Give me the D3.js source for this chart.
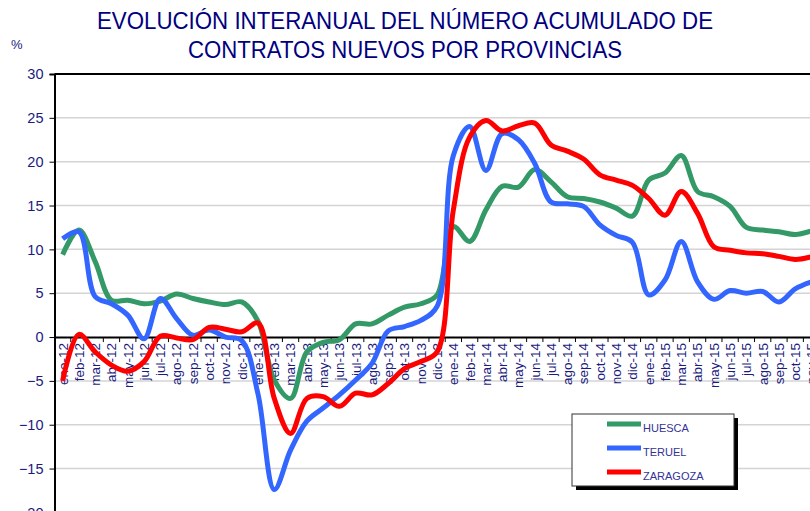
<!DOCTYPE html>
<html>
<head>
<meta charset="utf-8">
<script src="https://cdn.jsdelivr.net/npm/d3@7"></script>
<style>
  body { margin: 0; background: #fff; overflow: hidden; }
  #chart { width: 810px; height: 511px; }
</style>
</head>
<body>
<div id="chart"></div>
<script>
// Meses (ene-12 ... nov-15)
const meses = ["ene", "feb", "mar", "abr", "may", "jun", "jul", "ago", "sep", "oct", "nov", "dic"];
const anios = ["12", "13", "14", "15"];
const categorias = [];
anios.forEach(a => meses.forEach(m => categorias.push(m + "-" + a)));
categorias.splice(47); // la gráfica se corta en nov-15

const huesca = [9.4, 12.2, 8.6, 4.2, 4.2, 3.8, 4.1, 4.9, 4.4, 4.0, 3.7, 4.0,
    1.8, -4.9, -7.0, -1.7, -0.6, -0.3, 1.5, 1.5, 2.5, 3.4, 3.8, 4.8,
    12.6, 10.9, 14.5, 17.2, 17.1, 19.1, 17.7, 16.0, 15.8, 15.4, 14.7, 13.8,
    17.9, 18.7, 20.7, 16.6, 16.0, 14.9, 12.5, 12.2, 12.0, 11.7, 12.1];
const teruel = [11.2, 12.0, 4.6, 3.8, 2.5, -0.2, 4.4, 2.1, 0.2, 0.8, 0.0, -0.4,
    -6.5, -17.4, -12.9, -9.6, -8.1, -6.6, -4.9, -3.0, 0.7, 1.2, 1.9, 3.5,
    20.7, 24.0, 19.0, 23.2, 22.5, 19.8, 15.4, 15.2, 14.9, 12.8, 11.6, 10.8,
    4.8, 6.5, 10.9, 6.3, 4.3, 5.3, 5.0, 5.2, 4.0, 5.5, 6.3];
const zaragoza = [-5.0, 0.3, -1.7, -3.2, -3.9, -2.8, 0.1, -0.1, -0.3, 1.1, 0.9, 0.6,
    1.6, -7.0, -11.0, -7.0, -6.8, -7.9, -6.4, -6.6, -5.3, -3.6, -2.8, -1.7,
    14.5, 22.8, 24.7, 23.5, 24.1, 24.4, 21.9, 21.2, 20.3, 18.5, 17.9, 17.3,
    15.8, 13.9, 16.6, 14.1, 10.3, 9.9, 9.6, 9.5, 9.2, 8.85, 9.15];

const series = [
    { nombre: "HUESCA", valores: huesca, color: "#339966" },
    { nombre: "TERUEL", valores: teruel, color: "#3366ff" },
    { nombre: "ZARAGOZA", valores: zaragoza, color: "#ff0000" }
];

const yTicks = [-20, -15, -10, -5, 0, 5, 10, 15, 20, 25, 30];
const azul = "#1a1a80";

const width = 810;
const height = 511;

const svg = d3.select("#chart")
    .append("svg")
    .attr("width", width)
    .attr("height", height)
    .style("font-family", "'Liberation Sans', Arial, sans-serif");

// Escalas
const xScale = d3.scaleBand()
    .domain(categorias)
    .range([54.5, 54.5 + categorias.length * 16.28])
    .padding(0);

const yScale = d3.scaleLinear()
    .domain([-20, 30])
    .range([512.4, 74]);

// Rejilla
svg.append("g")
    .selectAll("line")
    .data(yTicks.filter(d => d !== 0 && d !== 30))
    .enter()
    .append("line")
    .attr("x1", 54.5)
    .attr("x2", width)
    .attr("y1", d => yScale(d))
    .attr("y2", d => yScale(d))
    .attr("stroke", "#d4d4d4")
    .attr("stroke-width", 1.5);

// Borde superior
svg.append("line")
    .attr("x1", 54.5).attr("x2", width)
    .attr("y1", yScale(30)).attr("y2", yScale(30))
    .attr("stroke", "#000").attr("stroke-width", 2);

// Eje Y
const yAxis = svg.append("g")
    .attr("transform", "translate(54.5,0)")
    .call(d3.axisLeft(yScale).tickValues(yTicks).tickSize(5).tickPadding(6));
yAxis.select(".domain").attr("stroke-width", 2);
yAxis.selectAll("text")
    .attr("fill", azul)
    .style("font-size", "14.5px")
    .style("font-family", "'Liberation Sans', Arial, sans-serif");

// Eje X en el cero
const xAxis = svg.append("g")
    .attr("transform", `translate(0,${yScale(0)})`)
    .call(d3.axisBottom(xScale).tickSize(0).tickSizeOuter(0).tickPadding(0));
xAxis.select(".domain").attr("stroke-width", 2);
xAxis.selectAll("text")
    .attr("fill", azul)
    .style("font-size", "13.5px")
    .style("font-family", "'Liberation Sans', Arial, sans-serif")
    .attr("text-anchor", "end")
    .attr("dy", "0.36em")
    .attr("transform", "translate(0,6) rotate(-90)");

// Marcas entre categorias
svg.append("g")
    .selectAll("line")
    .data(categorias)
    .enter()
    .append("line")
    .attr("x1", d => xScale(d) + xScale.bandwidth())
    .attr("x2", d => xScale(d) + xScale.bandwidth())
    .attr("y1", yScale(0))
    .attr("y2", yScale(0) + 5)
    .attr("stroke", "#000")
    .attr("stroke-width", 1);

// Lineas
const line = d3.line()
    .x((d, i) => xScale(categorias[i]) + xScale.bandwidth() / 2)
    .y(d => yScale(d))
    .curve(d3.curveCatmullRom.alpha(0.5));

svg.append("g")
    .selectAll("path")
    .data(series)
    .enter()
    .append("path")
    .attr("fill", "none")
    .attr("stroke", d => d.color)
    .attr("stroke-width", 5)
    .attr("stroke-linejoin", "round")
    .attr("d", d => line(d.valores));

// Titulo (letra algo estrecha, como en el original)
const titulo = svg.append("text")
    .attr("text-anchor", "middle")
    .attr("fill", "#000080")
    .style("font-size", "24px");
titulo.append("tspan").attr("x", 405).attr("y", 29)
    .attr("textLength", 616).attr("lengthAdjust", "spacingAndGlyphs")
    .text("EVOLUCIÓN INTERANUAL DEL NÚMERO ACUMULADO DE");
titulo.append("tspan").attr("x", 405).attr("y", 58)
    .attr("textLength", 434).attr("lengthAdjust", "spacingAndGlyphs")
    .text("CONTRATOS NUEVOS POR PROVINCIAS");

svg.append("text")
    .attr("x", 11).attr("y", 49)
    .attr("fill", azul)
    .style("font-size", "13px")
    .text("%");

// Leyenda
const leyenda = svg.append("g").attr("transform", "translate(572,414)");
leyenda.append("rect")
    .attr("x", 4).attr("y", 4)
    .attr("width", 162).attr("height", 72)
    .attr("fill", "#000");
leyenda.append("rect")
    .attr("width", 162).attr("height", 72)
    .attr("fill", "#fff")
    .attr("stroke", "#333").attr("stroke-width", 1);

const item = leyenda.selectAll(".item")
    .data(series)
    .enter()
    .append("g")
    .attr("class", "item")
    .attr("transform", (d, i) => `translate(0,${10 + i * 24})`);
item.append("line")
    .attr("x1", 35).attr("x2", 69)
    .attr("stroke", d => d.color)
    .attr("stroke-width", 5);
item.append("text")
    .attr("x", 71).attr("y", 7.5)
    .attr("fill", "#333399")
    .style("font-size", "11px")
    .text(d => d.nombre);
</script>
</body>
</html>
